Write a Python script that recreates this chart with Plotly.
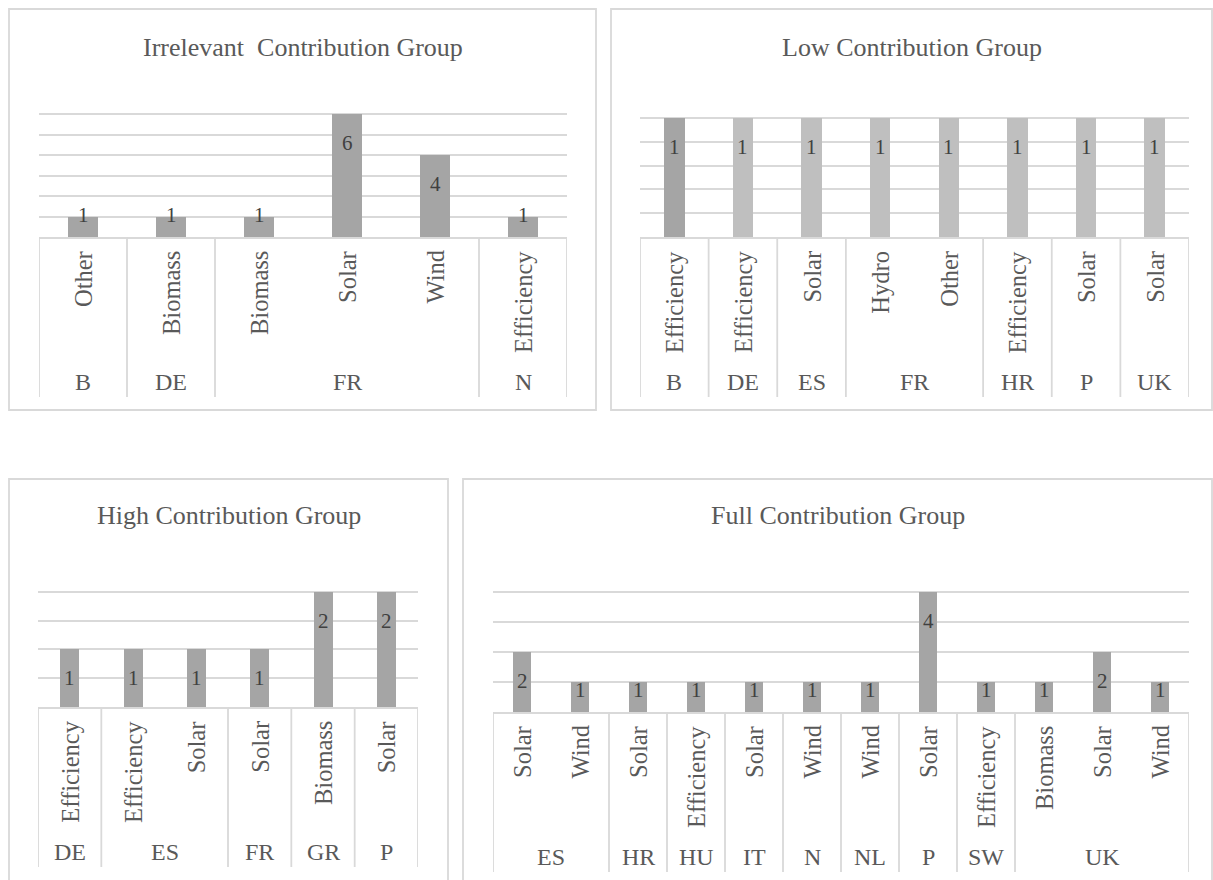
import plotly.graph_objects as go

# ---- data -------------------------------------------------------------
irr_country = ["B", "DE", "FR", "FR", "FR", "N"]
irr_source = ["Other", "Biomass", "Biomass", "Solar", "Wind", "Efficiency"]
irr_count = [1, 1, 1, 6, 4, 1]

low_country = ["B", "DE", "ES", "FR", "FR", "HR", "P", "UK"]
low_source = ["Efficiency", "Efficiency", "Solar", "Hydro", "Other", "Efficiency", "Solar", "Solar"]
low_count = [1, 1, 1, 1, 1, 1, 1, 1]

high_country = ["DE", "ES", "ES", "FR", "GR", "P"]
high_source = ["Efficiency", "Efficiency", "Solar", "Solar", "Biomass", "Solar"]
high_count = [1, 1, 1, 1, 2, 2]

full_country = ["ES", "ES", "HR", "HU", "IT", "N", "NL", "P", "SW", "UK", "UK", "UK"]
full_source = ["Solar", "Wind", "Solar", "Efficiency", "Solar", "Wind", "Wind", "Solar",
               "Efficiency", "Biomass", "Solar", "Wind"]
full_count = [2, 1, 1, 1, 1, 1, 1, 4, 1, 1, 2, 1]

titles = ["Irrelevant  Contribution Group", "Low Contribution Group",
          "High Contribution Group", "Full Contribution Group"]

# ---- style ------------------------------------------------------------
W, H = 1213, 880
FONT = "Liberation Serif"
GRID = "#d9d9d9"
TXT = "#595959"
LBL = "#404040"
DARK = "#a5a5a5"
LIGHT = "#bfbfbf"


def px(v, total):
    return v / total


# panel frame (px), plot area (px), axis range/step, bar colours
panels = [
    dict(country=irr_country, source=irr_source, count=irr_count, title=titles[0],
         frame=(9, 9, 596, 410), plot=(39, 94, 567, 237), ymax=7, dtick=1,
         colors=[DARK] * len(irr_count), width=0.33, title_y=47),
    dict(country=low_country, source=low_source, count=low_count, title=titles[1],
         frame=(611, 9, 1212, 410), plot=(640, 94, 1189, 237), ymax=1.2, dtick=0.2,
         colors=[DARK] + [LIGHT] * (len(low_count) - 1), width=0.30, title_y=47),
    dict(country=high_country, source=high_source, count=high_count, title=titles[2],
         frame=(9, 479, 448, 892), plot=(38, 563, 418, 707), ymax=2.5, dtick=0.5,
         colors=[DARK] * len(high_count), width=0.30, title_y=515),
    dict(country=full_country, source=full_source, count=full_count, title=titles[3],
         frame=(463, 479, 1212, 892), plot=(493, 562, 1189, 712), ymax=5, dtick=1,
         colors=[DARK] * len(full_count), width=0.31, title_y=515),
]

fig = go.Figure()
shapes = []
annotations = []
layout_axes = {}

for k, p in enumerate(panels, start=1):
    xa = "x" if k == 1 else f"x{k}"
    ya = "y" if k == 1 else f"y{k}"
    n = len(p["count"])
    xs = list(range(n))
    x0, y0, x1, y1 = p["plot"]

    fig.add_trace(go.Bar(
        x=xs, y=p["count"], width=p["width"], xaxis=xa, yaxis=ya,
        marker=dict(color=p["colors"], line=dict(width=0)),
        hoverinfo="skip", showlegend=False,
    ))

    layout_axes[("xaxis" if k == 1 else f"xaxis{k}")] = dict(
        domain=[px(x0, W), px(x1, W)], range=[-0.5, n - 0.5],
        showgrid=False, zeroline=False, showticklabels=False, ticks="",
        showline=True, linecolor=GRID, linewidth=1.8, anchor=ya, fixedrange=True,
    )
    layout_axes[("yaxis" if k == 1 else f"yaxis{k}")] = dict(
        domain=[1 - px(y1, H), 1 - px(y0, H)], range=[0, p["ymax"]], dtick=p["dtick"],
        showgrid=True, gridcolor=GRID, gridwidth=1.8, zeroline=False,
        showticklabels=False, ticks="", showline=False, anchor=xa, fixedrange=True,
    )

    # panel frame
    fx0, fy0, fx1, fy1 = p["frame"]
    shapes.append(dict(type="rect", xref="paper", yref="paper",
                       x0=px(fx0, W), x1=px(fx1, W), y0=1 - px(fy0, H), y1=1 - px(fy1, H),
                       line=dict(color=GRID, width=1.8), layer="below"))

    # panel title
    annotations.append(dict(text=p["title"], xref="paper", yref="paper",
                            x=px((fx0 + fx1) / 2, W), y=1 - px(p["title_y"], H),
                            xanchor="center", yanchor="middle", showarrow=False,
                            font=dict(family=FONT, size=26, color=TXT)))

    # data labels inside the bar ends
    plot_h = y1 - y0
    for i, v in enumerate(p["count"]):
        bar_px = v / p["ymax"] * plot_h
        shift = min(29, bar_px - 22)
        annotations.append(dict(text=str(v), x=i, y=v, xref=xa, yref=ya,
                                yshift=-shift, xanchor="center", yanchor="middle",
                                showarrow=False,
                                font=dict(family=FONT, size=21, color=LBL)))

    # inner category labels (rotated)
    for i, s in enumerate(p["source"]):
        annotations.append(dict(text=s, x=i, y=0, xref=xa, yref=ya, yshift=-12,
                                xanchor="center", yanchor="top", textangle=-90,
                                showarrow=False,
                                font=dict(family=FONT, size=24.5, color=TXT)))

    # outer country groups and dividers
    groups = []
    for i, c in enumerate(p["country"]):
        if groups and groups[-1][0] == c:
            groups[-1][2] = i
        else:
            groups.append([c, i, i])
    line_bottom = 1 - px(y1 + 160, H)
    axis_paper = 1 - px(y1, H)
    bounds = [-0.5] + [g[2] + 0.5 for g in groups]
    for b in bounds:
        shapes.append(dict(type="line", xref=xa, yref="paper", x0=b, x1=b,
                           y0=axis_paper, y1=line_bottom,
                           line=dict(color=GRID, width=1.8)))
    for c, a, b in groups:
        annotations.append(dict(text=c, x=(a + b) / 2, y=0, xref=xa, yref=ya,
                                yshift=-145, xanchor="center", yanchor="middle",
                                showarrow=False,
                                font=dict(family=FONT, size=24, color=TXT)))

fig.update_layout(
    width=W, height=H, margin=dict(l=0, r=0, t=0, b=0),
    paper_bgcolor="white", plot_bgcolor="white",
    bargap=0, shapes=shapes, annotations=annotations,
    font=dict(family=FONT, color=TXT), **layout_axes,
)

fig.write_html("out.html", config={"displayModeBar": False})
